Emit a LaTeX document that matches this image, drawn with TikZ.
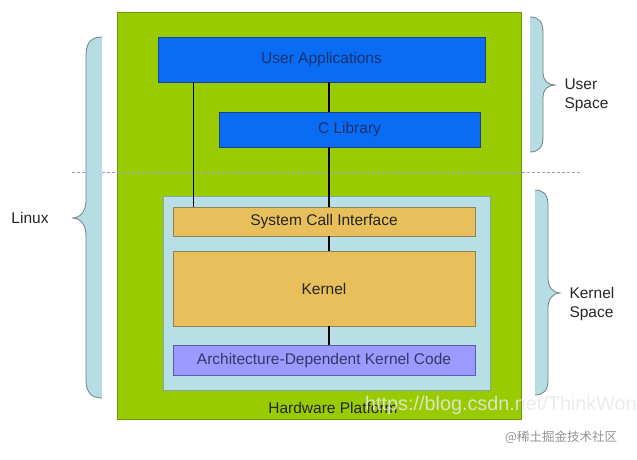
\documentclass[tikz,border=0pt]{standalone}
\usepackage{fontspec}
\setmainfont{Liberation Sans}
\newfontfamily\cjkfont{Noto Sans CJK SC}
\definecolor{hwgreen}{HTML}{99CC00}
\definecolor{hwedge}{HTML}{6E9400}
\definecolor{ublue}{HTML}{0A6CF2}
\definecolor{ubedge}{HTML}{1F3F8F}
\definecolor{kblue}{HTML}{B9DFE6}
\definecolor{kbedge}{HTML}{7FA9A9}
\definecolor{korange}{HTML}{E8BF5A}
\definecolor{koedge}{HTML}{8F8255}
\definecolor{apurple}{HTML}{9A9AFF}
\definecolor{apedge}{HTML}{5A5AAF}
\definecolor{bracefill}{HTML}{B7DDE4}
\definecolor{braceline}{HTML}{6F7F82}
\definecolor{sepline}{HTML}{9C9CDD}
\begin{document}
\begin{tikzpicture}[x=1pt, y=-1pt,
    lbl/.style={font=\fontsize{15.5}{19}\selectfont, text=black!85},
    box/.style={draw, line width=0.8pt, inner sep=0pt, lbl},
    link/.style={line width=1.6pt, black},
    brc/.style={line width=0.8pt, braceline}]
  \useasboundingbox (0,0) rectangle (637,460);
  % hardware platform and kernel space
  \node[box, fill=hwgreen, draw=hwedge, minimum width=404pt, minimum height=407pt] (hw) at (319,215.5) {};
  \node[box, fill=kblue, draw=kbedge, minimum width=327pt, minimum height=194pt] (kspace) at (326.5,293) {};
  \node[lbl] (hwlabel) at (333,408) {Hardware Platform};
  % user / kernel separation
  \draw[sepline, line width=1pt, dash pattern=on 3pt off 2pt] (72,172) -- (580,172);
  % user space
  \node[box, fill=ublue, draw=ubedge, text=ubedge!80!black, minimum width=327pt, minimum height=45pt] (userapp) at (321.5,59.5) {User Applications};
  \node[box, fill=ublue, draw=ubedge, text=ubedge!80!black, minimum width=261pt, minimum height=35pt] (clib) at (349.5,129.5) {C Library};
  % kernel
  \node[box, fill=korange, draw=koedge, minimum width=302pt, minimum height=29pt] (sci) at (324,221.5) {System Call Interface};
  \node[box, fill=korange, draw=koedge, minimum width=302pt, minimum height=75pt] (kernel) at (324,288.5) {Kernel};
  \node[box, fill=apurple, draw=apedge, text=apedge!60!black, minimum width=302pt, minimum height=30pt] (arch) at (324,360) {Architecture-Dependent Kernel Code};
  % connections
  \coordinate (spine) at (329,0);
  \draw[link] ([xshift=36pt]userapp.south west) -- ([xshift=36pt]userapp.south west |- sci.north);
  \draw[link] (userapp.south -| spine) -- (clib.north -| spine);
  \draw[link] (clib.south -| spine) -- (sci.north -| spine);
  \draw[link] (sci.south -| spine) -- (kernel.north -| spine);
  \draw[link] (kernel.south -| spine) -- (arch.north -| spine);
  % braces
  \fill[bracefill] (102,37) .. controls (92,37) and (86,42) .. (86,55) -- (86,200) .. controls (86,212) and (80,218) .. (72,218) .. controls (80,218) and (86,224) .. (86,236) -- (86,380) .. controls (86,393) and (92,398) .. (102,398) -- cycle;
  \draw[brc] (102,37) .. controls (92,37) and (86,42) .. (86,55) -- (86,200) .. controls (86,212) and (80,218) .. (72,218) .. controls (80,218) and (86,224) .. (86,236) -- (86,380) .. controls (86,393) and (92,398) .. (102,398);
  \fill[bracefill] (530,17) .. controls (539,17) and (543,22) .. (543,32) -- (543,72) .. controls (543,81) and (548,85) .. (555,85) .. controls (548,85) and (543,89) .. (543,98) -- (543,137) .. controls (543,147) and (539,152) .. (530,152) -- cycle;
  \draw[brc] (530,17) .. controls (539,17) and (543,22) .. (543,32) -- (543,72) .. controls (543,81) and (548,85) .. (555,85) .. controls (548,85) and (543,89) .. (543,98) -- (543,137) .. controls (543,147) and (539,152) .. (530,152);
  \fill[bracefill] (535,190) .. controls (544,190) and (548,195) .. (548,205) -- (548,278) .. controls (548,287) and (553,293) .. (560,293) .. controls (553,293) and (548,299) .. (548,308) -- (548,380) .. controls (548,390) and (544,395) .. (535,395) -- cycle;
  \draw[brc] (535,190) .. controls (544,190) and (548,195) .. (548,205) -- (548,278) .. controls (548,287) and (553,293) .. (560,293) .. controls (553,293) and (548,299) .. (548,308) -- (548,380) .. controls (548,390) and (544,395) .. (535,395);
  \node[lbl] (linux) at (30,218) {Linux};
  \node[lbl, anchor=west, align=left] (uspace) at (561,95) {User\\Space};
  \node[lbl, anchor=west, align=left] (kspacelbl) at (566,304) {Kernel\\Space};
  % watermarks
  \node[anchor=base west, inner sep=0pt, text=white!82!gray, opacity=0.85, font=\fontsize{19.8}{22}\selectfont] (wmurl) at (365,410) {https://blog.csdn.net/ThinkWon};
  \node[anchor=west, inner sep=0pt, text=gray!85, font=\cjkfont\fontsize{12.5}{14}\selectfont] (wmcjk) at (505,437) {@稀土掘金技术社区};
\end{tikzpicture}
\end{document}
